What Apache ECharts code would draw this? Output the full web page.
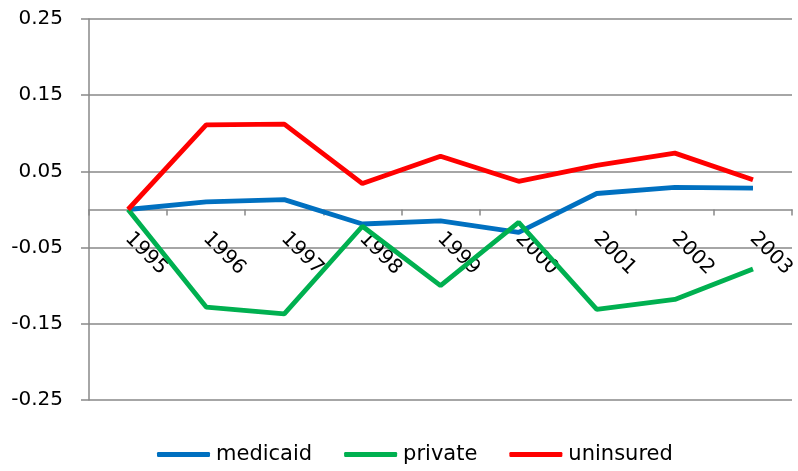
<!DOCTYPE html>
<html>
<head>
<meta charset="utf-8">
<script src="https://cdn.jsdelivr.net/npm/echarts@6/dist/echarts.min.js"></script>
<style>html,body{margin:0;padding:0;background:#fff}#c{width:798px;height:471px}</style>
</head>
<body>
<div id="c"></div>
<script>
const years = ['1995','1996','1997','1998','1999','2000','2001','2002','2003'];
const medicaid = [0, 0.010, 0.013, -0.019, -0.015, -0.030, 0.021, 0.029, 0.028];
const privateIns = [0, -0.128, -0.137, -0.022, -0.100, -0.017, -0.131, -0.118, -0.078];
const uninsured = [0, 0.111, 0.112, 0.034, 0.070, 0.037, 0.058, 0.074, 0.039];
const yTicks = [-0.25, -0.15, -0.05, 0.05, 0.15, 0.25];

const chart = echarts.init(document.getElementById('c'));
const font = 'DejaVu Sans';
const gray = '#898989';
function mk(name, data, color) {
  return {name, type: 'line', data, symbol: 'none', showSymbol: false,
    lineStyle: {width: 4.8, color}, itemStyle: {color}, animation: false};
}
chart.setOption({
  animation: false,
  grid: {left: 89, right: 3, top: 19, bottom: 71, containLabel: false},
  legend: {
    bottom: 1, left: 152, itemWidth: 53, itemHeight: 5, itemGap: 32, icon: 'roundRect',
    textStyle: {fontFamily: font, fontSize: 21, color: '#000', padding: [0,0,0,1]},
    data: ['medicaid', 'private', 'uninsured']
  },
  xAxis: {
    type: 'category', data: years, boundaryGap: true, offset: -190.5,
    axisLine: {onZero: false, lineStyle: {color: gray, width: 1.5}},
    axisTick: {show: true, inside: false, length: 6, lineStyle: {color: gray, width: 1.5}},
    axisLabel: {rotate: -45, margin: 26, fontFamily: font, fontSize: 20, color: '#000'}
  },
  yAxis: {
    type: 'value', min: -0.25, max: 0.25, interval: 0.1,
    axisLine: {show: true, lineStyle: {color: gray, width: 1.5}},
    axisTick: {show: true, length: 8, lineStyle: {color: gray, width: 1.5}},
    splitLine: {show: true, lineStyle: {color: gray, width: 1.5}},
    axisLabel: {margin: 26, fontFamily: font, fontSize: 20, color: '#000',
      formatter: v => {
        const r = Math.round(v * 100) / 100;
        return yTicks.includes(r) ? r.toFixed(2) : '';
      }}
  },
  series: [
    mk('medicaid', medicaid, '#0070C0'),
    mk('private', privateIns, '#00B050'),
    mk('uninsured', uninsured, '#FF0000')
  ]
});
</script>
</body>
</html>
